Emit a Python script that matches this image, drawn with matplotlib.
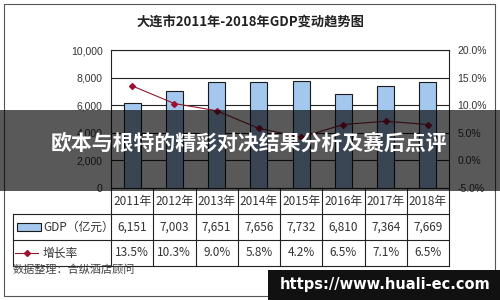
import matplotlib.pyplot as plt
from matplotlib.patches import Rectangle

plt.rcParams['font.family'] = ['Liberation Sans', 'Noto Sans CJK SC', 'DejaVu Sans']

years = ["2011年", "2012年", "2013年", "2014年", "2015年", "2016年", "2017年", "2018年"]
gdp = [6151, 7003, 7651, 7656, 7732, 6810, 7364, 7669]
rate = [13.5, 10.3, 9.0, 5.8, 4.2, 6.5, 7.1, 6.5]

title = "大连市2011年-2018年GDP变动趋势图"
overlay_title = "欧本与根特的精彩对决结果分析及赛后点评"
source = "数据整理：合纵酒店顾问"
watermark = "https://www.huali-ec.com"

W, H = 500, 300
CJK = ['Noto Sans CJK SC', 'DejaVu Sans']
BAR_C = '#a4c7ee'
LINE_C = '#8c1c2c'


def box(x0, y0, x1, y1):
    # pixel box (top-left origin) -> figure fraction rect
    return [x0 / W, 1 - y1 / H, (x1 - x0) / W, (y1 - y0) / H]


fig = plt.figure(figsize=(5, 3), dpi=100)
fig.patch.set_facecolor('white')

# outer frame
fig.add_artist(Rectangle((4 / W, 1 - 296 / H), 491 / W, 292 / H, transform=fig.transFigure,
                         fill=False, edgecolor='#555555', linewidth=0.8))

fig.text(250 / W, 1 - 22 / H, title, ha='center', va='center', fontsize=9.5,
         fontweight='bold', color='#222222', family=CJK)

ax = fig.add_axes(box(111, 50, 449, 188))
x = range(len(years))
ax.bar(x, gdp, width=0.4, color=BAR_C, edgecolor='#1a1a1a', linewidth=0.8, zorder=3)
ax.set_xlim(-0.5, len(years) - 0.5)
ax.set_ylim(0, 10000)
ax.set_yticks(range(0, 10001, 2000))
ax.set_yticklabels([f"{v:,}" for v in range(0, 10001, 2000)])
ax.set_xticks([])
ax.grid(axis='y', color='#222222', linewidth=0.8, zorder=0)
ax.tick_params(axis='y', length=0, pad=6, labelsize=7.5, labelcolor='#333333')
for s in ax.spines.values():
    s.set_color('#222222')
    s.set_linewidth(0.8)

ax2 = ax.twinx()
ax2.plot(x, rate, color=LINE_C, linewidth=0.8, marker='D', markersize=3,
         markerfacecolor='#a01030', markeredgecolor='#a01030', zorder=4)
ax2.set_ylim(-5, 20)
ax2.set_yticks(range(-5, 21, 5))
ax2.set_yticklabels([f"{v:.1f}%" for v in range(-5, 21, 5)])
ax2.tick_params(axis='y', length=0, pad=6, labelsize=7.5, labelcolor='#333333')
for s in ax2.spines.values():
    s.set_visible(False)

# data table under the plot
tb = fig.add_axes(box(13, 188, 449, 266))
unit = 338 / len(years)
left = -0.5 - 98 / unit
tb.set_xlim(left, len(years) - 0.5)
tb.set_ylim(0, 3)
tb.axis('off')
lc = '#222222'
for k in range(len(years) + 1):
    tb.plot([k - 0.5, k - 0.5], [0, 3], color=lc, linewidth=0.8, clip_on=False)
tb.plot([left, left], [0, 2], color=lc, linewidth=0.8, clip_on=False)
for yy in (0, 1, 2):
    tb.plot([left, len(years) - 0.5], [yy, yy], color=lc, linewidth=0.8, clip_on=False)
for i, yr in enumerate(years):
    tb.text(i, 2.5, yr, ha='center', va='center', fontsize=8.5, color='#333333', family=CJK)
    tb.text(i, 1.5, f"{gdp[i]:,}", ha='center', va='center', fontsize=8.5, color='#333333', family=CJK)
    tb.text(i, 0.5, f"{rate[i]:.1f}%", ha='center', va='center', fontsize=8.5, color='#333333', family=CJK)

px = lambda p: -0.5 - (111 - p) / unit
tb.add_patch(Rectangle((px(17), 1.36), px(41) - px(17), 0.28, facecolor=BAR_C,
                       edgecolor='#1a1a1a', linewidth=0.8))
tb.text(px(43), 1.5, "GDP（亿元）", ha='left', va='center', fontsize=8.5, color='#333333', family=CJK)
tb.plot([px(15), px(38)], [0.5, 0.5], color=LINE_C, linewidth=0.8, clip_on=False)
tb.plot([px(26.5)], [0.5], marker='D', markersize=3, color='#a01030', clip_on=False)
tb.text(px(43), 0.5, "增长率", ha='left', va='center', fontsize=8.5, color='#333333', family=CJK)

fig.text(13 / W, 1 - 270 / H, source, ha='left', va='center', fontsize=8, color='#444444', family=CJK)

# dark overlay band with headline
fig.add_artist(Rectangle((0, 1 - 191 / H), 1, 81 / H, transform=fig.transFigure,
                         facecolor='black', alpha=0.65, edgecolor='none', zorder=10))
fig.text(249 / W, 1 - 143 / H, overlay_title, ha='center', va='center', fontsize=15,
         fontweight='bold', color='white', family=CJK, zorder=11)

# watermark
fig.add_artist(Rectangle((268 / W, 0), 232 / W, 30 / H, transform=fig.transFigure,
                         facecolor='#111111', edgecolor='none', zorder=10))
fig.text(385 / W, 15 / H, watermark, ha='center', va='center', fontsize=10.5,
         fontweight='bold', color='white', family='DejaVu Sans', zorder=11)

fig.savefig("out.png", dpi=100)
